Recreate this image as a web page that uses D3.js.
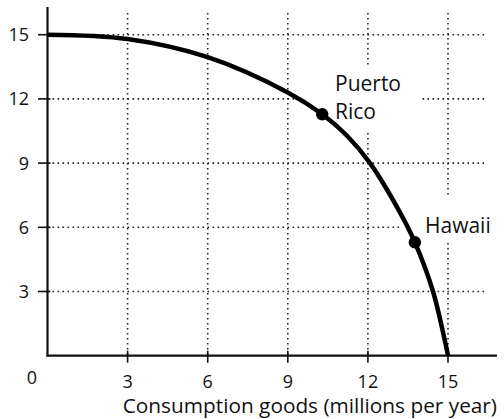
<!DOCTYPE html>
<html><head><meta charset="utf-8">
<script src="https://cdn.jsdelivr.net/npm/d3@7"></script>
<style>body{margin:0;background:#fff}svg{display:block}text{font-family:"Open Sans",Lato,sans-serif;fill:#111}</style>
</head><body><script>
const xTicks = [3, 6, 9, 12, 15];
const yTicks = [3, 6, 9, 12, 15];
const curveX = [0, 3, 6, 9, 10.29, 11.2, 12.08, 13.2, 13.76, 14.44, 15];
const curveY = [15, 14.8, 13.95, 12.3, 11.28, 10.3, 9.0, 6.7, 5.3, 3.0, 0];
const pointNames = ["Puerto Rico", "Hawaii"];
const pointX = [10.29, 13.76];
const pointY = [11.28, 5.3];
const xTitle = "Consumption goods (millions per year)";

const W = 504, H = 419;
const svg = d3.select("body").append("svg").attr("width", W).attr("height", H);
const x = d3.scaleLinear().domain([0, 15]).range([47.5, 448]);
const y = d3.scaleLinear().domain([0, 15]).range([355.7, 34.7]);

const grid = svg.append("g").attr("stroke", "#222").attr("stroke-width", 1.6).attr("stroke-dasharray", "1.6,3.4");
grid.selectAll(".h").data(yTicks).join("line")
  .attr("x1", x(0)).attr("x2", 485).attr("y1", d => y(d)).attr("y2", d => y(d));
grid.selectAll(".v").data(xTicks).join("line")
  .attr("x1", d => x(d)).attr("x2", d => x(d)).attr("y1", 13).attr("y2", y(0));

// white label backgrounds that interrupt the grid
svg.append("rect").attr("x", 300).attr("y", 68).attr("width", 120).attr("height", 62).attr("fill", "#fff");
svg.append("rect").attr("x", 402).attr("y", 198).attr("width", 100).attr("height", 45).attr("fill", "#fff");

// axes
const ax = svg.append("g").attr("stroke", "#111").attr("fill", "none");
ax.append("line").attr("x1", x(0)).attr("x2", x(0)).attr("y1", 7).attr("y2", y(0) + 1).attr("stroke-width", 2.2);
ax.append("line").attr("x1", x(0) - 1).attr("x2", 497).attr("y1", y(0)).attr("y2", y(0)).attr("stroke-width", 2.2);
ax.selectAll(".yt").data(yTicks).join("line").attr("stroke-width", 1.6)
  .attr("x1", 38).attr("x2", x(0) + 3).attr("y1", d => y(d)).attr("y2", d => y(d));
ax.selectAll(".xt").data(xTicks).join("line").attr("stroke-width", 1.6)
  .attr("x1", d => x(d)).attr("x2", d => x(d)).attr("y1", y(0) - 5).attr("y2", y(0) + 7);

// tick labels
svg.selectAll(".yl").data(yTicks).join("text")
  .attr("x", 29).attr("y", d => y(d) + 6.5).attr("text-anchor", "end").attr("font-size", 18).text(d => d);
svg.selectAll(".xl").data(xTicks).join("text")
  .attr("x", d => x(d)).attr("y", 388).attr("text-anchor", "middle").attr("font-size", 18).text(d => d);
svg.append("text").attr("x", 32).attr("y", 384).attr("text-anchor", "middle").attr("font-size", 18).text(0);
svg.append("text").attr("x", 497).attr("y", 413).attr("text-anchor", "end").attr("font-size", 20.8).text(xTitle);

// curve
const pts = curveX.map((d, i) => [d, curveY[i]]);
svg.append("path").datum(pts)
  .attr("d", d3.line().x(d => x(d[0])).y(d => y(d[1])).curve(d3.curveCatmullRom.alpha(0.5)))
  .attr("fill", "none").attr("stroke", "#000").attr("stroke-width", 4.5);

svg.selectAll(".pt").data(pointX).join("circle")
  .attr("cx", d => x(d)).attr("cy", (d, i) => y(pointY[i])).attr("r", 6.2).attr("fill", "#000");

// point labels
const pr = pointNames[0].split(" ");
svg.append("text").attr("x", 335).attr("y", 91).attr("font-size", 21).text(pr[0]);
svg.append("text").attr("x", 335).attr("y", 119).attr("font-size", 21).text(pr[1]);
svg.append("text").attr("x", 425).attr("y", 233).attr("font-size", 21).text(pointNames[1]);
</script></body></html>
